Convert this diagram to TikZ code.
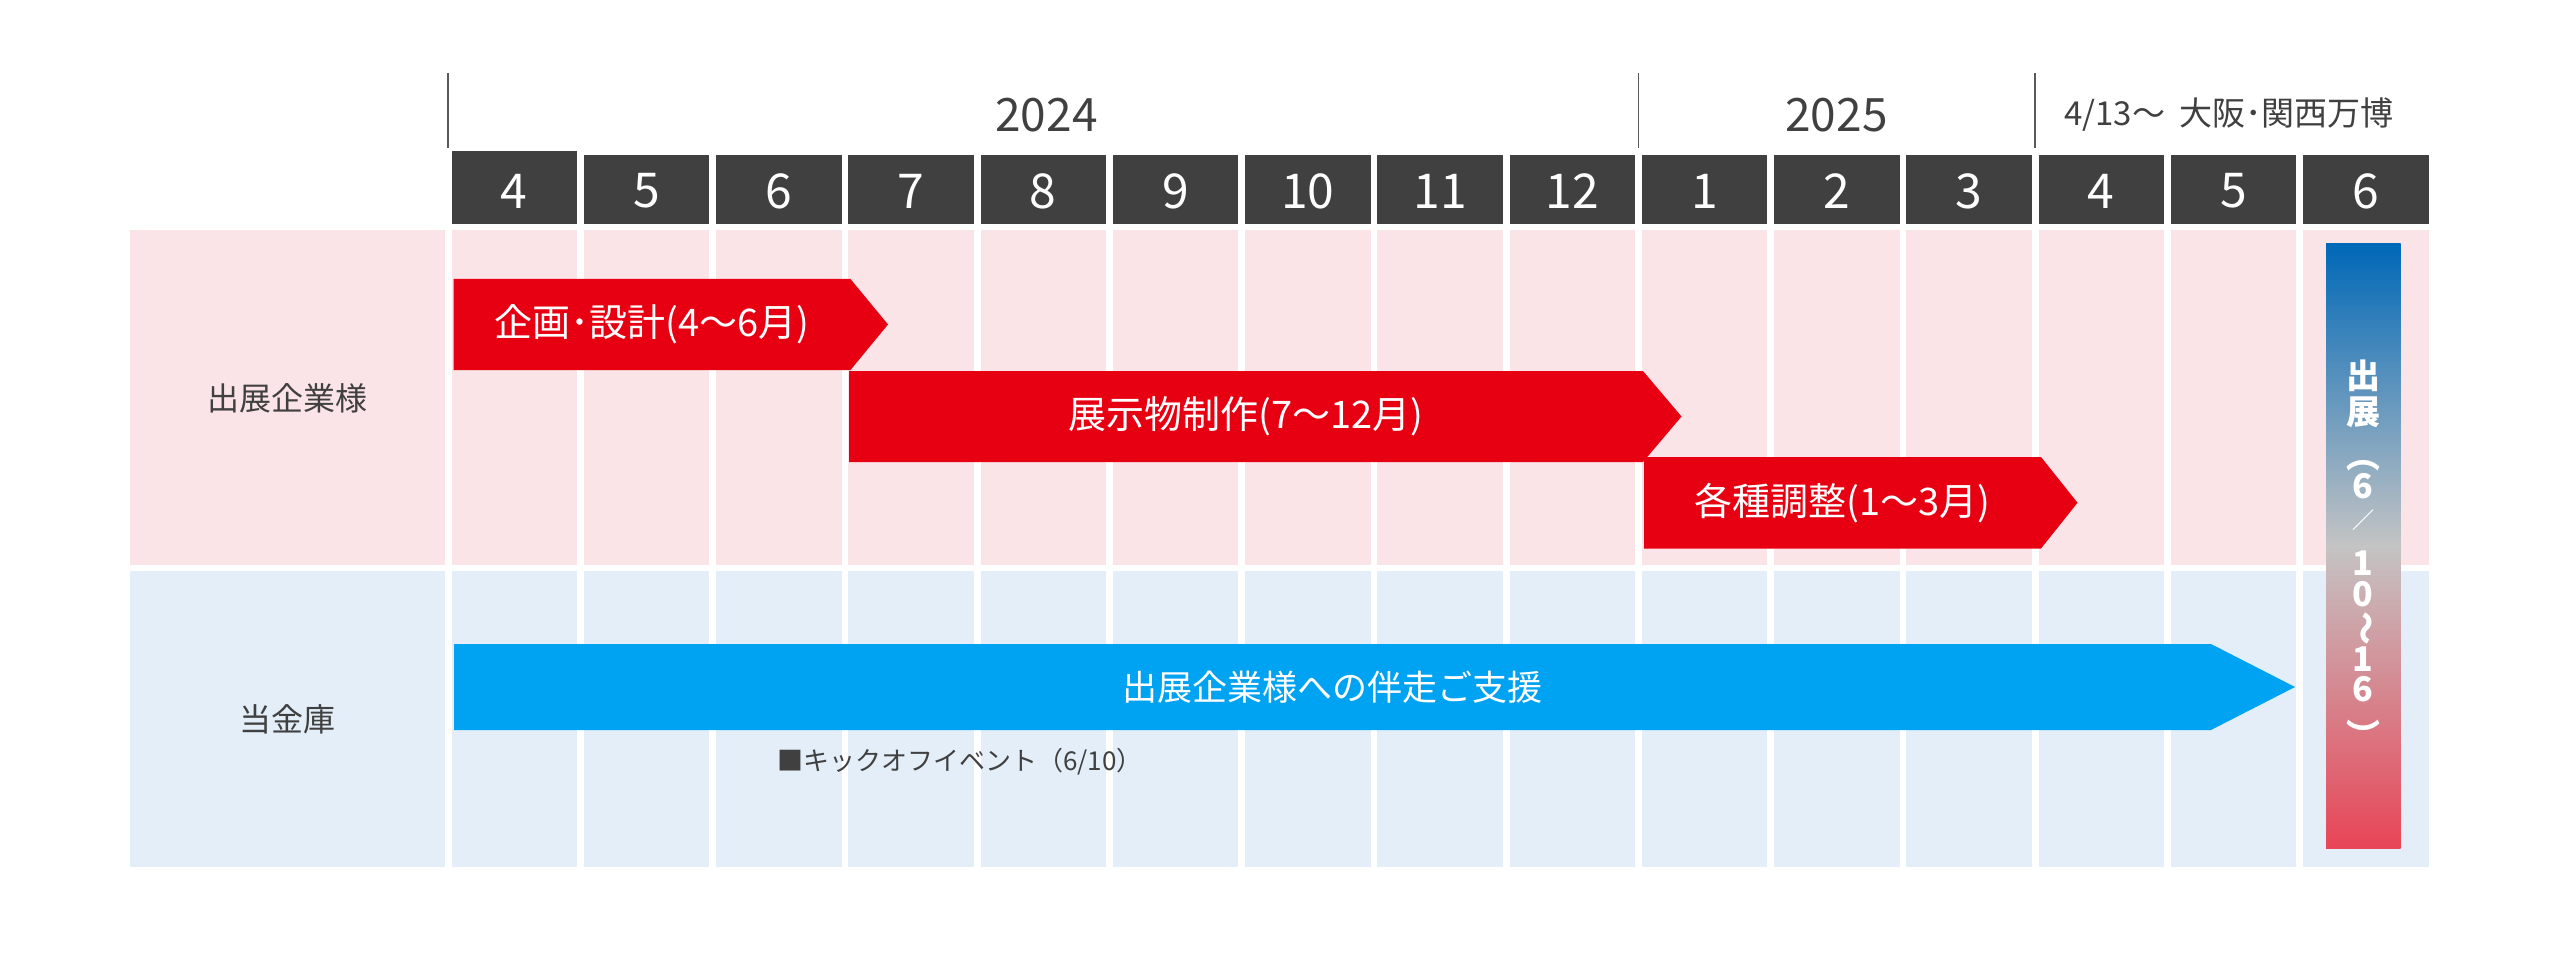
\documentclass[tikz,border=0pt]{standalone}
\usepackage{fontspec}
\setmainfont{Noto Sans CJK JP}
\usepackage{tikz}
\usetikzlibrary{positioning}
\definecolor{headgray}{HTML}{404040}
\definecolor{linegray}{HTML}{595959}
\definecolor{rowpink}{RGB}{251,228,231}
\definecolor{rowblue}{RGB}{228,238,248}
\definecolor{barred}{HTML}{E60012}
\definecolor{barblue}{HTML}{00A2F2}
\definecolor{expotop}{HTML}{0068B7}
\definecolor{expomid}{HTML}{C4C4C4}
\definecolor{expobot}{HTML}{E84557}
\newcommand{\exposlash}{{\fontsize{22}{24}\selectfont ／}}
\tikzstyle{monthtext} = [text=white,font=\fontsize{48}{52}\selectfont]
\tikzstyle{yeartext} = [text=headgray,font=\fontsize{46}{50}\selectfont]
\tikzstyle{rowlabel} = [text=headgray,font=\fontsize{32}{38}\selectfont]
\tikzstyle{bartext} = [text=white,font=\fontsize{38}{42}\selectfont]
\tikzstyle{expotext} = [text=white,font=\bfseries\fontsize{34}{36}\selectfont,inner sep=0pt]

\begin{document}
\begin{tikzpicture}[x=1pt,y=-1pt]
\useasboundingbox (0,0) rectangle (2560,968);
% row heads
\fill[rowpink] (130,230) rectangle (444.5,564.5);
\fill[rowblue] (130,570.5) rectangle (444.5,866.5);
\node[rowlabel] (exhibitor) at (287.5,398.5) {出展企業様};
\node[rowlabel] (bank) at (287.5,719) {当金庫};
% month columns
\fill[headgray] (451.5,151.5) rectangle (577,155);
\foreach \m [count=\i from 0] in {4,5,6,7,8,9,10,11,12,1,2,3,4,5,6} {
  \pgfmathsetmacro\xl{451.5+132.25*\i}
  \fill[rowpink] (\xl,230) rectangle ++(125.5,334.5);
  \fill[rowblue] (\xl,570.5) rectangle ++(125.5,296);
  \fill[headgray] (\xl,155) rectangle ++(125.5,69);
  \node[monthtext] (m\i) at (\xl+62.75,191) {\m};
}
% years
\draw[linegray,line width=1.2pt] (448,73) -- (448,148);
\draw[linegray,line width=1.2pt] (1638.5,73) -- (1638.5,148);
\draw[linegray,line width=1.2pt] (2035,73) -- (2035,148);
\node[yeartext] (y2024) at (1046.5,115) {2024};
\node[yeartext] (y2025) at (1836.5,115) {2025};
\node[rowlabel,anchor=west,inner sep=0pt,font=\fontsize{33}{38}\selectfont] (expo) at (2064,115) {4/13～\hspace{14pt}大阪･関西万博};
% tasks
\fill[barred] (453.5,279) -- (850.5,279) -- (888,324.5) -- (850.5,370) -- (453.5,370) -- cycle;
\node[bartext] (plan) at (652,324.5) {企画･設計(4～6月)};
\fill[barred] (849,371) -- (1643,371) -- (1681.5,416.5) -- (1643,462) -- (849,462) -- cycle;
\node[bartext] (make) at (1246,416.5) {展示物制作(7～12月)};
\fill[barred] (1644,457) -- (2041,457) -- (2077.5,502.75) -- (2041,548.5) -- (1644,548.5) -- cycle;
\node[bartext] (adjust) at (1842.5,502.75) {各種調整(1～3月)};
\fill[barblue] (454,644) -- (2211,644) -- (2295,687) -- (2211,730) -- (454,730) -- cycle;
\node[bartext,font=\fontsize{35}{40}\selectfont] (support) at (1332.5,687) {出展企業様への伴走ご支援};
\node[rowlabel,anchor=west,inner sep=0pt,font=\fontsize{26}{30}\selectfont] (kickoff) at (777,761.5) {■キックオフイベント（6/10）};
% expo period
\shade[top color=expotop,bottom color=expobot,middle color=expomid] (2326,244) rectangle (2400.5,848);
\foreach \ch/\yy/\rot [count=\k] in {出/376/0,展/412/0,（/455/-90,6/486/0,\exposlash/520/0,1/563/0,0/594/0,～/628/-90,1/659/0,6/689/0,）/735/-90}
  \node[expotext,rotate=\rot] (e\k) at (2363,\yy) {\ch};
\end{tikzpicture}
\end{document}
